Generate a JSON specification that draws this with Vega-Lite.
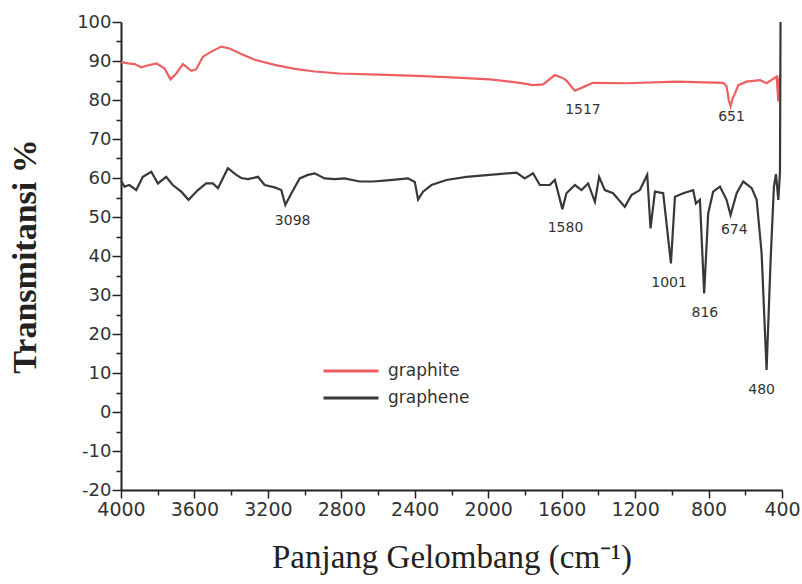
{
  "$schema": "https://vega.github.io/schema/vega-lite/v6.json",
  "autosize": "none",
  "width": 661,
  "height": 468,
  "padding": {"left": 121, "top": 22, "right": 20, "bottom": 94},
  "background": "white",
  "config": {
    "view": {"stroke": null},
    "axis": {
      "grid": false,
      "ticks": true,
      "domainColor": "#222222",
      "domainWidth": 2,
      "tickColor": "#222222",
      "tickWidth": 1.5,
      "labelFont": "DejaVu Sans",
      "labelFontSize": 18,
      "labelColor": "#333333",
      "titleFont": "Liberation Serif",
      "titleColor": "#222222",
      "labelOverlap": false,
      "labelFlush": false
    }
  },
  "datasets": {
    "spectra": [
      {"series": "graphite", "wn": 4000, "t": 89.7},
      {"series": "graphite", "wn": 3960, "t": 89.4},
      {"series": "graphite", "wn": 3926, "t": 89.2},
      {"series": "graphite", "wn": 3890, "t": 88.4},
      {"series": "graphite", "wn": 3850, "t": 88.9},
      {"series": "graphite", "wn": 3808, "t": 89.4},
      {"series": "graphite", "wn": 3763, "t": 88.1},
      {"series": "graphite", "wn": 3730, "t": 85.3},
      {"series": "graphite", "wn": 3699, "t": 86.8},
      {"series": "graphite", "wn": 3663, "t": 89.2},
      {"series": "graphite", "wn": 3617, "t": 87.5},
      {"series": "graphite", "wn": 3590, "t": 87.9},
      {"series": "graphite", "wn": 3554, "t": 91.1},
      {"series": "graphite", "wn": 3508, "t": 92.4},
      {"series": "graphite", "wn": 3454, "t": 93.7},
      {"series": "graphite", "wn": 3409, "t": 93.2},
      {"series": "graphite", "wn": 3345, "t": 91.8},
      {"series": "graphite", "wn": 3272, "t": 90.3},
      {"series": "graphite", "wn": 3163, "t": 89.0},
      {"series": "graphite", "wn": 3054, "t": 88.0},
      {"series": "graphite", "wn": 2945, "t": 87.3},
      {"series": "graphite", "wn": 2809, "t": 86.8},
      {"series": "graphite", "wn": 2600, "t": 86.5},
      {"series": "graphite", "wn": 2391, "t": 86.2},
      {"series": "graphite", "wn": 2200, "t": 85.8},
      {"series": "graphite", "wn": 1992, "t": 85.3},
      {"series": "graphite", "wn": 1828, "t": 84.4},
      {"series": "graphite", "wn": 1756, "t": 83.8},
      {"series": "graphite", "wn": 1701, "t": 84.0},
      {"series": "graphite", "wn": 1637, "t": 86.4},
      {"series": "graphite", "wn": 1592, "t": 85.6},
      {"series": "graphite", "wn": 1574, "t": 85.0},
      {"series": "graphite", "wn": 1540, "t": 83.0},
      {"series": "graphite", "wn": 1528, "t": 82.4},
      {"series": "graphite", "wn": 1483, "t": 83.3},
      {"series": "graphite", "wn": 1429, "t": 84.4},
      {"series": "graphite", "wn": 1247, "t": 84.3},
      {"series": "graphite", "wn": 974, "t": 84.7},
      {"series": "graphite", "wn": 720, "t": 84.4},
      {"series": "graphite", "wn": 702, "t": 83.5},
      {"series": "graphite", "wn": 690, "t": 80.0},
      {"series": "graphite", "wn": 680, "t": 78.4},
      {"series": "graphite", "wn": 668, "t": 80.5},
      {"series": "graphite", "wn": 656, "t": 81.7},
      {"series": "graphite", "wn": 638, "t": 83.8},
      {"series": "graphite", "wn": 593, "t": 84.7},
      {"series": "graphite", "wn": 520, "t": 85.1},
      {"series": "graphite", "wn": 484, "t": 84.3},
      {"series": "graphite", "wn": 448, "t": 85.4},
      {"series": "graphite", "wn": 429, "t": 86.0},
      {"series": "graphite", "wn": 420, "t": 79.6},
      {"series": "graphite", "wn": 416, "t": 85.4},
      {"series": "graphite", "wn": 408, "t": 86.5},
      {"series": "graphene", "wn": 4000, "t": 59.3},
      {"series": "graphene", "wn": 3981, "t": 57.8},
      {"series": "graphene", "wn": 3954, "t": 58.2},
      {"series": "graphene", "wn": 3917, "t": 56.9},
      {"series": "graphene", "wn": 3881, "t": 60.3},
      {"series": "graphene", "wn": 3835, "t": 61.6},
      {"series": "graphene", "wn": 3799, "t": 58.6},
      {"series": "graphene", "wn": 3754, "t": 60.3},
      {"series": "graphene", "wn": 3718, "t": 58.2},
      {"series": "graphene", "wn": 3672, "t": 56.5},
      {"series": "graphene", "wn": 3632, "t": 54.4},
      {"series": "graphene", "wn": 3581, "t": 56.9},
      {"series": "graphene", "wn": 3536, "t": 58.6},
      {"series": "graphene", "wn": 3500, "t": 58.6},
      {"series": "graphene", "wn": 3472, "t": 57.4},
      {"series": "graphene", "wn": 3418, "t": 62.5},
      {"series": "graphene", "wn": 3372, "t": 60.8},
      {"series": "graphene", "wn": 3345, "t": 60.0},
      {"series": "graphene", "wn": 3309, "t": 59.7},
      {"series": "graphene", "wn": 3254, "t": 60.3},
      {"series": "graphene", "wn": 3218, "t": 58.2},
      {"series": "graphene", "wn": 3163, "t": 57.6},
      {"series": "graphene", "wn": 3127, "t": 56.9},
      {"series": "graphene", "wn": 3105, "t": 53.1},
      {"series": "graphene", "wn": 3072, "t": 56.1},
      {"series": "graphene", "wn": 3027, "t": 59.9},
      {"series": "graphene", "wn": 2982, "t": 60.8},
      {"series": "graphene", "wn": 2945, "t": 61.2},
      {"series": "graphene", "wn": 2891, "t": 59.9},
      {"series": "graphene", "wn": 2836, "t": 59.7},
      {"series": "graphene", "wn": 2782, "t": 59.9},
      {"series": "graphene", "wn": 2700, "t": 59.1},
      {"series": "graphene", "wn": 2628, "t": 59.1},
      {"series": "graphene", "wn": 2550, "t": 59.4},
      {"series": "graphene", "wn": 2437, "t": 59.9},
      {"series": "graphene", "wn": 2400, "t": 59.0},
      {"series": "graphene", "wn": 2382, "t": 54.5},
      {"series": "graphene", "wn": 2355, "t": 56.5},
      {"series": "graphene", "wn": 2309, "t": 58.2},
      {"series": "graphene", "wn": 2228, "t": 59.5},
      {"series": "graphene", "wn": 2119, "t": 60.3},
      {"series": "graphene", "wn": 1992, "t": 60.8},
      {"series": "graphene", "wn": 1846, "t": 61.4},
      {"series": "graphene", "wn": 1801, "t": 59.9},
      {"series": "graphene", "wn": 1756, "t": 61.2},
      {"series": "graphene", "wn": 1719, "t": 58.2},
      {"series": "graphene", "wn": 1665, "t": 58.2},
      {"series": "graphene", "wn": 1637, "t": 59.5},
      {"series": "graphene", "wn": 1596, "t": 52.0},
      {"series": "graphene", "wn": 1574, "t": 56.1},
      {"series": "graphene", "wn": 1528, "t": 58.2},
      {"series": "graphene", "wn": 1492, "t": 56.9},
      {"series": "graphene", "wn": 1456, "t": 58.6},
      {"series": "graphene", "wn": 1419, "t": 53.9},
      {"series": "graphene", "wn": 1396, "t": 60.3},
      {"series": "graphene", "wn": 1365, "t": 56.9},
      {"series": "graphene", "wn": 1320, "t": 56.1},
      {"series": "graphene", "wn": 1256, "t": 52.6},
      {"series": "graphene", "wn": 1220, "t": 55.6},
      {"series": "graphene", "wn": 1174, "t": 56.9},
      {"series": "graphene", "wn": 1134, "t": 60.8},
      {"series": "graphene", "wn": 1116, "t": 47.1},
      {"series": "graphene", "wn": 1092, "t": 56.5},
      {"series": "graphene", "wn": 1047, "t": 56.1},
      {"series": "graphene", "wn": 1005, "t": 38.1},
      {"series": "graphene", "wn": 983, "t": 55.2},
      {"series": "graphene", "wn": 938, "t": 56.1},
      {"series": "graphene", "wn": 884, "t": 56.9},
      {"series": "graphene", "wn": 869, "t": 53.5},
      {"series": "graphene", "wn": 847, "t": 54.4},
      {"series": "graphene", "wn": 824, "t": 30.4},
      {"series": "graphene", "wn": 802, "t": 50.9},
      {"series": "graphene", "wn": 775, "t": 56.5},
      {"series": "graphene", "wn": 738, "t": 57.8},
      {"series": "graphene", "wn": 702, "t": 54.4},
      {"series": "graphene", "wn": 680, "t": 50.5},
      {"series": "graphene", "wn": 647, "t": 56.1},
      {"series": "graphene", "wn": 611, "t": 59.1},
      {"series": "graphene", "wn": 565, "t": 57.4},
      {"series": "graphene", "wn": 538, "t": 54.4},
      {"series": "graphene", "wn": 511, "t": 40.7},
      {"series": "graphene", "wn": 484, "t": 10.8},
      {"series": "graphene", "wn": 462, "t": 39.0},
      {"series": "graphene", "wn": 444, "t": 57.8},
      {"series": "graphene", "wn": 433, "t": 61.0},
      {"series": "graphene", "wn": 420, "t": 54.4},
      {"series": "graphene", "wn": 411, "t": 61.5},
      {"series": "graphene", "wn": 408, "t": 100.0}
    ],
    "peaks": [
      {"wn": 1484, "t": 77.4, "label": "1517"},
      {"wn": 675, "t": 75.7, "label": "651"},
      {"wn": 3065, "t": 49.0, "label": "3098"},
      {"wn": 1579, "t": 47.1, "label": "1580"},
      {"wn": 660, "t": 46.7, "label": "674"},
      {"wn": 1015, "t": 33.0, "label": "1001"},
      {"wn": 820, "t": 25.3, "label": "816"},
      {"wn": 511, "t": 5.6, "label": "480"}
    ]
  },
  "encoding": {
    "x": {
      "field": "wn",
      "type": "quantitative",
      "scale": {"domain": [400, 4000], "reverse": true, "nice": false},
      "axis": {
        "values": [400, 600, 800, 1000, 1200, 1400, 1600, 1800, 2000, 2200, 2400, 2600, 2800, 3000, 3200, 3400, 3600, 3800, 4000],
        "labelExpr": "datum.value % 400 == 0 ? '' + datum.value : ''",
        "labelOverlap": false,
        "labelFlush": false,
        "ticks": true,
        "tickSize": {"condition": {"test": "datum.value % 400 != 0", "value": 5}, "value": 8},
        "labelPadding": 2,
        "labelFontSize": 19,
        "title": "Panjang Gelombang (cm⁻¹)",
        "titleFontSize": 33,
        "titleFontWeight": "normal",
        "titlePadding": 22
      }
    },
    "y": {
      "field": "t",
      "type": "quantitative",
      "scale": {"domain": [-20, 100], "nice": false},
      "axis": {
        "values": [-20, -15, -10, -5, 0, 5, 10, 15, 20, 25, 30, 35, 40, 45, 50, 55, 60, 65, 70, 75, 80, 85, 90, 95, 100],
        "labelExpr": "datum.value % 10 == 0 ? '' + datum.value : ''",
        "labelOverlap": false,
        "ticks": true,
        "tickSize": {"condition": {"test": "datum.value % 10 != 0", "value": 5}, "value": 9},
        "labelPadding": 1,
        "title": "Transmitansi %",
        "titleFontSize": 34,
        "titleFontWeight": "bold",
        "titlePadding": 34
      }
    }
  },
  "layer": [
    {
      "data": {"name": "spectra"},
      "mark": {"type": "line", "strokeWidth": 2.2, "interpolate": "linear"},
      "encoding": {
        "color": {
          "field": "series",
          "type": "nominal",
          "scale": {"domain": ["graphite", "graphene"], "range": ["#ec5f62", "#383838"]},
          "legend": {
            "title": null,
            "orient": "none",
            "legendX": 201,
            "legendY": 339,
            "symbolType": "stroke",
            "symbolSize": 3025,
            "symbolStrokeWidth": 3,
            "labelFont": "DejaVu Sans",
            "labelFontSize": 17,
            "labelColor": "#333333",
            "labelOffset": 8,
            "clipHeight": 20,
            "rowPadding": 7,
            "padding": 0
          }
        }
      }
    },
    {
      "data": {"name": "peaks"},
      "mark": {"type": "text", "font": "DejaVu Sans", "fontSize": 14, "color": "#333333", "align": "center", "baseline": "middle"},
      "encoding": {
        "text": {"field": "label", "type": "nominal"}
      }
    }
  ]
}
